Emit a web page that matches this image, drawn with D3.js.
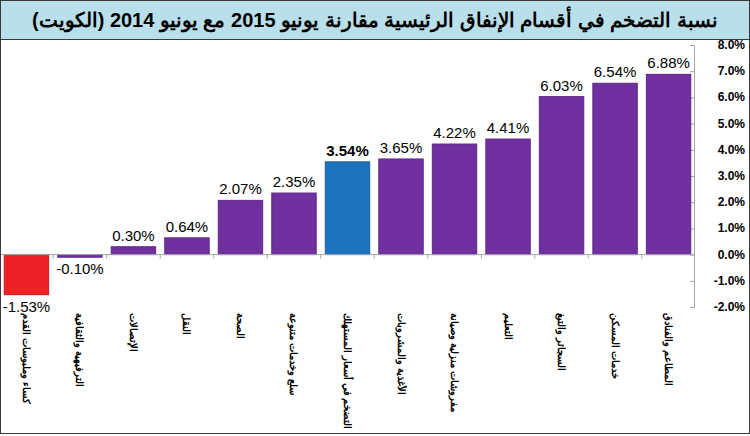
<!DOCTYPE html>
<html>
<head>
<meta charset="utf-8">
<script src="https://cdn.jsdelivr.net/npm/d3@7"></script>
<style>
  body { margin: 0; background: #fff; }
  svg { display: block; font-family: Arial, "Liberation Sans", sans-serif; }
</style>
</head>
<body>
<div id="chart"></div>
<script>
// data
var categories = ["كساء وملبوسات القدم", "الترفيهية والثقافية", "الإتصالات", "النقل", "الصحة",
  "سلع وخدمات متنوعة", "التضخم في أسعار المستهلك", "الأغذية والمشروبات", "مفروشات منزلية وصيانة",
  "التعليم", "السجائر والتبغ", "خدمات المسكن", "المطاعم والفنادق"];
var values = [-1.53, -0.10, 0.30, 0.64, 2.07, 2.35, 3.54, 3.65, 4.22, 4.41, 6.03, 6.54, 6.88];
var yTicks = [-2, -1, 0, 1, 2, 3, 4, 5, 6, 7, 8];
var title = "نسبة التضخم في أقسام الإنفاق الرئيسية مقارنة يونيو 2015 مع يونيو 2014 (الكويت)";
var highlightIndex = 6;

var width = 750, height = 436;

var svg = d3.select("#chart").append("svg")
  .attr("width", width)
  .attr("height", height);

// outer frame
svg.append("rect")
  .attr("x", 0.5).attr("y", 0.5)
  .attr("width", width - 1).attr("height", height - 3)
  .style("fill", "#fff").style("stroke", "#3a3a3a");

// title bar
svg.append("rect")
  .attr("x", 0.5).attr("y", 0.5)
  .attr("width", width - 1).attr("height", 39)
  .style("fill", "#b9e0ea").style("stroke", "#3a3a3a");

svg.append("text")
  .attr("x", width / 2).attr("y", 20)
  .attr("text-anchor", "middle")
  .attr("dominant-baseline", "central")
  .style("font-size", "20px").style("font-weight", "bold")
  .text(title);

var x = d3.scaleBand()
  .domain(categories)
  .range([1, 694])
  .paddingInner(0.17)
  .paddingOuter(0.06);

var y = d3.scaleLinear()
  .domain([-2, 8])
  .range([307, 45]);

// y axis on the right
var yAxis = svg.append("g")
  .attr("transform", "translate(694,0)")
  .call(d3.axisLeft(y).tickValues(yTicks).tickSize(4).tickFormat(""));
yAxis.select(".domain").style("stroke", "#a6a6a6");
yAxis.selectAll(".tick line").style("stroke", "#a6a6a6");

svg.selectAll(".ylab")
  .data(yTicks).enter()
  .append("text")
  .attr("x", 745).attr("y", function(d) { return y(d); })
  .attr("text-anchor", "end")
  .attr("dominant-baseline", "central")
  .style("font-size", "12px").style("font-weight", "bold")
  .text(function(d) { return d.toFixed(1) + "%"; });

// bars
svg.selectAll(".bar")
  .data(values).enter()
  .append("rect")
  .attr("x", function(d, i) { return x(categories[i]); })
  .attr("width", x.bandwidth())
  .attr("y", function(d) { return y(Math.max(0, d)); })
  .attr("height", function(d) { return Math.abs(y(d) - y(0)); })
  .style("fill", function(d, i) {
    if (d < -1) return "#ed2126";
    if (i == highlightIndex) return "#1c74bc";
    return "#7030a0";
  })
  .style("stroke", function(d, i) {
    if (d < -1) return "#c81a1f";
    if (i == highlightIndex) return "#165f9c";
    return "#5e2887";
  })
  .style("stroke-width", 1);

// zero line with category ticks
svg.append("line")
  .attr("x1", 1).attr("x2", 694)
  .attr("y1", y(0)).attr("y2", y(0))
  .style("stroke", "#a6a6a6");

var step = x.step();
svg.selectAll(".ctick")
  .data(categories.slice(1)).enter()
  .append("line")
  .attr("x1", function(d) { return x(d) - step * 0.085; })
  .attr("x2", function(d) { return x(d) - step * 0.085; })
  .attr("y1", y(0)).attr("y2", y(0) + 4)
  .style("stroke", "#a6a6a6");

// value labels
svg.selectAll(".vlab")
  .data(values).enter()
  .append("text")
  .attr("x", function(d, i) { return x(categories[i]) + x.bandwidth() / 2; })
  .attr("y", function(d) { return d >= 0 ? y(d) - 6 : y(d) + 17; })
  .attr("text-anchor", "middle")
  .style("font-size", "15px")
  .style("font-weight", function(d, i) { return i == highlightIndex ? "bold" : "normal"; })
  .text(function(d) { return d.toFixed(2) + "%"; });

// category labels, rotated
svg.selectAll(".clab")
  .data(categories).enter()
  .append("text")
  .attr("transform", function(d) {
    return "translate(" + (x(d) + x.bandwidth() / 2) + ",313) rotate(90)";
  })
  .attr("text-anchor", "start")
  .attr("dominant-baseline", "central")
  .style("font-size", "10px").style("font-weight", "bold")
  .text(function(d) { return d; });
</script>
</body>
</html>
